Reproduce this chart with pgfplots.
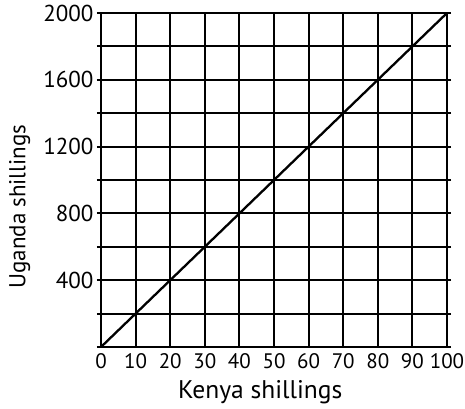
\documentclass[border=0pt]{standalone}
\usepackage{fontspec}
\setmainfont{PT Sans}
\usepackage{pgfplots}
\pgfplotsset{compat=1.18}
\begin{document}
\begin{tikzpicture}
\begin{axis}[
  name=ax,
  scale only axis,
  width=346pt, height=334pt,
  xmin=0, xmax=100, ymin=0, ymax=2000,
  xtick={0,10,...,100},
  ytick={0,200,...,2000},
  yticklabels={,,400,,800,,1200,,1600,,2000},
  xtick style={draw=none},
  ytick style={black, line width=2pt},
  tick align=outside,
  major tick length=4pt,
  grid=major,
  grid style={black, line width=2pt},
  axis line style={black, line width=2pt},
  yticklabel style={font=\fontsize{23}{26}\selectfont},
  xticklabel style={font=\fontsize{21}{24}\selectfont, yshift=1pt},
  /pgf/number format/assume math mode=true,
  /pgf/number format/1000 sep={},
  xlabel={Kenya shillings},
  ylabel={Uganda shillings},
  xlabel style={font=\fontsize{25.5}{28}\selectfont, at={(rel axis cs:0.46,-0.135)}, anchor=center},
  ylabel style={font=\fontsize{23}{28}\selectfont, at={(rel axis cs:-0.235,0.42)}, anchor=center},
  clip=false,
]
\addplot[black, line width=2.3pt] coordinates {(0,0) (100,2000)};
\end{axis}
\pgfresetboundingbox
\useasboundingbox ([shift={(-101pt,-61pt)}]ax.south west) rectangle ([shift={(18pt,13pt)}]ax.north east);
\end{tikzpicture}
\end{document}
